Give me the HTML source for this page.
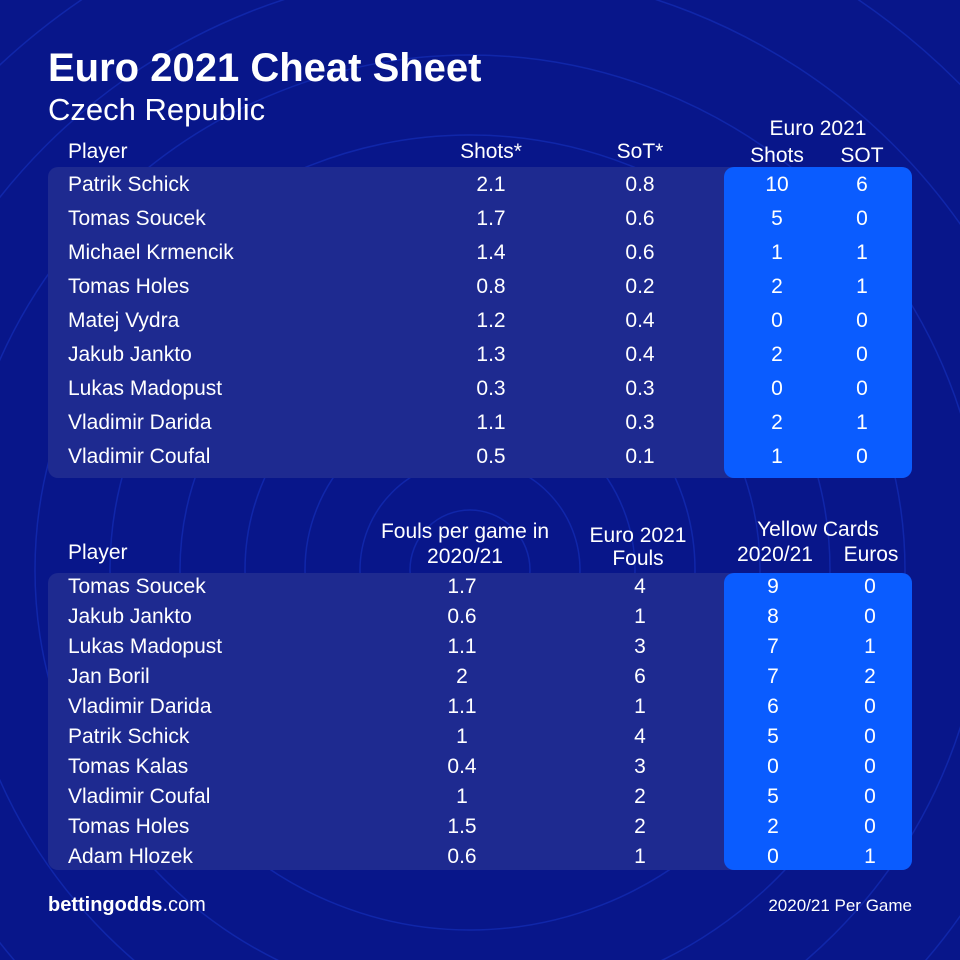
<!DOCTYPE html>
<html><head><style>
html,body{margin:0;width:960px;height:960px;overflow:hidden}
body{background:#08168a;position:relative;font-family:"Liberation Sans",sans-serif;color:#fff}
.t{position:absolute;white-space:nowrap;font-size:21px;line-height:1}
.c{transform:translateX(-50%)}
.panel{position:absolute;background:#1e2a90;border-radius:10px}
.blue{position:absolute;background:#0a5cff;border-radius:10px}
</style></head><body>
<svg width="960" height="960" style="position:absolute;left:0;top:0">
<g fill="none" stroke="#1a3bd0" stroke-width="1.5" opacity="0.45">
<circle cx="470" cy="570" r="60"/><circle cx="470" cy="570" r="110"/><circle cx="470" cy="570" r="165"/><circle cx="470" cy="570" r="225"/><circle cx="470" cy="570" r="290"/><circle cx="470" cy="570" r="360"/><circle cx="470" cy="570" r="435"/><circle cx="470" cy="570" r="515"/><circle cx="470" cy="570" r="600"/><circle cx="470" cy="570" r="690"/>
</g></svg>
<div class="t" style="left:48px;top:48px;font-size:40px;font-weight:bold">Euro 2021 Cheat Sheet</div>
<div class="t" style="left:48px;top:94px;font-size:31px">Czech Republic</div>

<div class="panel" style="left:48px;top:167px;width:864px;height:311px"></div>
<div class="blue" style="left:724px;top:167px;width:188px;height:311px"></div>
<div class="panel" style="left:48px;top:573px;width:864px;height:297px"></div>
<div class="blue" style="left:724px;top:573px;width:188px;height:297px"></div>

<div class="t" style="left:68px;top:141px">Player</div>
<div class="t c" style="left:491px;top:141px">Shots*</div>
<div class="t c" style="left:640px;top:141px">SoT*</div>
<div class="t c" style="left:818px;top:118px">Euro 2021</div>
<div class="t c" style="left:777px;top:145px">Shots</div>
<div class="t c" style="left:862px;top:145px">SOT</div>

<div class="t" style="left:68px;top:542px">Player</div>
<div class="t c" style="left:465px;top:521px">Fouls per game in</div>
<div class="t c" style="left:465px;top:546px">2020/21</div>
<div class="t c" style="left:638px;top:525px">Euro 2021</div>
<div class="t c" style="left:638px;top:548px">Fouls</div>
<div class="t c" style="left:818px;top:519px">Yellow Cards</div>
<div class="t c" style="left:775px;top:544px">2020/21</div>
<div class="t c" style="left:871px;top:544px">Euros</div>

<div id="t1"></div>
<script>
var d1=[["Patrik Schick","2.1","0.8","10","6"],["Tomas Soucek","1.7","0.6","5","0"],["Michael Krmencik","1.4","0.6","1","1"],["Tomas Holes","0.8","0.2","2","1"],["Matej Vydra","1.2","0.4","0","0"],["Jakub Jankto","1.3","0.4","2","0"],["Lukas Madopust","0.3","0.3","0","0"],["Vladimir Darida","1.1","0.3","2","1"],["Vladimir Coufal","0.5","0.1","1","0"]];
var d2=[["Tomas Soucek","1.7","4","9","0"],["Jakub Jankto","0.6","1","8","0"],["Lukas Madopust","1.1","3","7","1"],["Jan Boril","2","6","7","2"],["Vladimir Darida","1.1","1","6","0"],["Patrik Schick","1","4","5","0"],["Tomas Kalas","0.4","3","0","0"],["Vladimir Coufal","1","2","5","0"],["Tomas Holes","1.5","2","2","0"],["Adam Hlozek","0.6","1","0","1"]];
var h="";
d1.forEach(function(r,i){var y=174+i*34;
h+='<div class="t" style="left:68px;top:'+y+'px">'+r[0]+'</div>';
[491,640,777,862].forEach(function(x,j){h+='<div class="t c" style="left:'+x+'px;top:'+y+'px">'+r[j+1]+'</div>';});});
d2.forEach(function(r,i){var y=576+i*30;
h+='<div class="t" style="left:68px;top:'+y+'px">'+r[0]+'</div>';
[462,640,773,870].forEach(function(x,j){h+='<div class="t c" style="left:'+x+'px;top:'+y+'px">'+r[j+1]+'</div>';});});
document.getElementById("t1").innerHTML=h;
</script>
<div class="t" style="left:48px;top:895px;font-size:20px"><b>bettingodds</b>.com</div>
<div class="t" style="right:48px;top:897px;font-size:17px">2020/21 Per Game</div>
</body></html>
